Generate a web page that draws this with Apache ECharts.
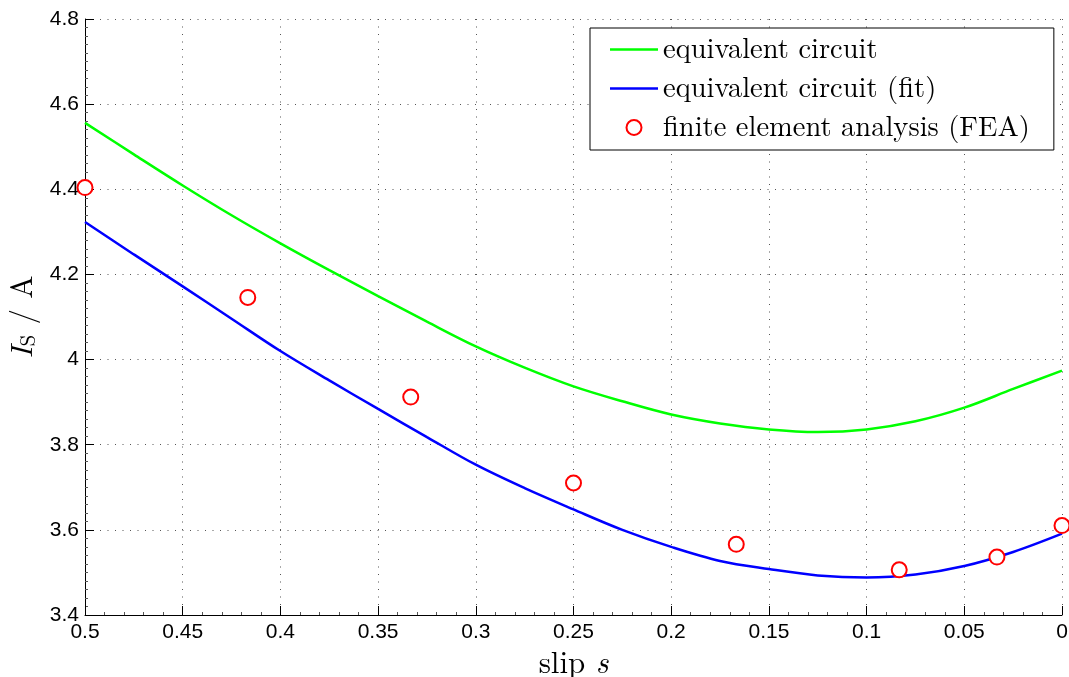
<!DOCTYPE html>
<html>
<head>
<meta charset="utf-8">
<script src="https://cdn.jsdelivr.net/npm/echarts@6/dist/echarts.min.js"></script>
<style>
  html, body { margin: 0; padding: 0; background: #fff; }
  #chart { width: 1069px; height: 677px; }
</style>
</head>
<body>
<div id="chart"></div>
<script>
// Slip values of the sampled equivalent-circuit curves
const slip = [0.5, 0.475, 0.45, 0.425, 0.4, 0.375, 0.35, 0.325, 0.3, 0.275, 0.25,
              0.225, 0.2, 0.175, 0.15, 0.125, 0.1, 0.075, 0.05, 0.025, 0];
// Stator current from the equivalent circuit
const currentCircuit = [4.556, 4.482, 4.409, 4.339, 4.273, 4.210, 4.149, 4.089, 4.031, 3.981, 3.937,
                        3.902, 3.871, 3.850, 3.836, 3.830, 3.836, 3.855, 3.887, 3.931, 3.974];
// Stator current from the fitted equivalent circuit
const currentFit = [4.323, 4.247, 4.172, 4.096, 4.020, 3.951, 3.884, 3.818, 3.753, 3.698, 3.648,
                    3.600, 3.560, 3.527, 3.508, 3.493, 3.488, 3.495, 3.515, 3.548, 3.591];
// Finite element results
const feaSlip = [0.5, 0.4167, 0.3333, 0.25, 0.1667, 0.0833, 0.0333, 0];
const feaCurrent = [4.404, 4.146, 3.912, 3.710, 3.566, 3.506, 3.536, 3.610];

const seriesNames = ['equivalent circuit', 'equivalent circuit (fit)', 'finite element analysis (FEA)'];
const xTicks = { min: 0, max: 0.5, step: 0.05 };
const yTicks = { min: 3.4, max: 4.8, step: 0.2 };

const pair = (xs, ys) => xs.map((x, i) => [x, ys[i]]);

const SANS = '"Liberation Sans", Arial, Helvetica, sans-serif';
const SERIF = '"Latin Modern Roman", "CMU Serif", "DejaVu Serif", "Liberation Serif", serif';

const gridLine = { show: true, lineStyle: { color: '#555', width: 1, type: [1, 6.5] } };
// plain stroke used as the legend key of the two curves
const lineKey = 'path://M0,0 H48 V2.5 H0 Z';

const chart = echarts.init(document.getElementById('chart'), null, { renderer: 'canvas' });
chart.setOption({
  backgroundColor: '#fff',
  animation: false,
  grid: { left: 85, right: 7, top: 19, bottom: 62, outerBoundsMode: 'none', containLabel: false },
  legend: {
    orient: 'vertical',
    left: 590,
    top: 28,
    backgroundColor: '#fff',
    borderColor: '#000',
    borderWidth: 1,
    borderRadius: 0,
    padding: [7, 24, 8, 20],
    itemWidth: 48,
    itemHeight: 15,
    itemGap: 10,
    textStyle: { fontFamily: SERIF, fontSize: 28.5, color: '#000', lineHeight: 28 },
    data: [
      { name: seriesNames[0], icon: lineKey },
      { name: seriesNames[1], icon: lineKey },
      { name: seriesNames[2] }
    ]
  },
  xAxis: {
    type: 'value',
    inverse: true,
    min: xTicks.min,
    max: xTicks.max,
    interval: xTicks.step,
    name: '{t|slip }{s|s}',
    nameLocation: 'middle',
    nameGap: 30,
    nameTextStyle: {
      rich: {
        t: { fontFamily: SERIF, fontSize: 31, color: '#000' },
        s: { fontFamily: SERIF, fontSize: 31, fontStyle: 'italic', color: '#000' }
      }
    },
    axisLine: { show: true, onZero: false, lineStyle: { color: '#000', width: 1 } },
    axisTick: { show: true, inside: true, length: 9, lineStyle: { color: '#000' } },
    minorTick: { show: true, splitNumber: 5, length: 3, lineStyle: { color: '#555' } },
    axisLabel: { fontFamily: SANS, fontSize: 21, color: '#000', margin: 7 },
    splitLine: gridLine
  },
  yAxis: {
    type: 'value',
    min: yTicks.min,
    max: yTicks.max,
    interval: yTicks.step,
    name: '{i|I}{s|S}{t| / A}',
    nameLocation: 'middle',
    nameGap: 41,
    nameTextStyle: {
      rich: {
        i: { fontFamily: SERIF, fontSize: 31, fontStyle: 'italic', color: '#000', lineHeight: 32 },
        s: { fontFamily: SERIF, fontSize: 21, color: '#000', lineHeight: 32, verticalAlign: 'bottom', padding: [8, 0, 0, 0] },
        t: { fontFamily: SERIF, fontSize: 31, color: '#000', lineHeight: 32 }
      }
    },
    axisLine: { show: true, onZero: false, lineStyle: { color: '#000', width: 1 } },
    axisTick: { show: true, inside: true, length: 9, lineStyle: { color: '#000' } },
    minorTick: { show: true, splitNumber: 10, length: 3, lineStyle: { color: '#555' } },
    axisLabel: {
      fontFamily: SANS, fontSize: 21, color: '#000', margin: 6,
      formatter: v => String(+v.toFixed(2))
    },
    splitLine: gridLine
  },
  series: [
    {
      name: seriesNames[0],
      type: 'line',
      data: pair(slip, currentCircuit),
      smooth: 0.35,
      symbol: 'none',
      lineStyle: { color: '#00ff00', width: 2.5 },
      itemStyle: { color: '#00ff00' },
      z: 3
    },
    {
      name: seriesNames[1],
      type: 'line',
      data: pair(slip, currentFit),
      smooth: 0.35,
      symbol: 'none',
      lineStyle: { color: '#0000ff', width: 2.5 },
      itemStyle: { color: '#0000ff' },
      z: 3
    },
    {
      name: seriesNames[2],
      type: 'scatter',
      data: pair(feaSlip, feaCurrent),
      symbol: 'emptyCircle',
      symbolSize: 15,
      clip: false,
      itemStyle: { color: '#ff0000', borderColor: '#ff0000', borderWidth: 2.2, opacity: 1 },
      z: 4
    }
  ]
});
</script>
</body>
</html>
